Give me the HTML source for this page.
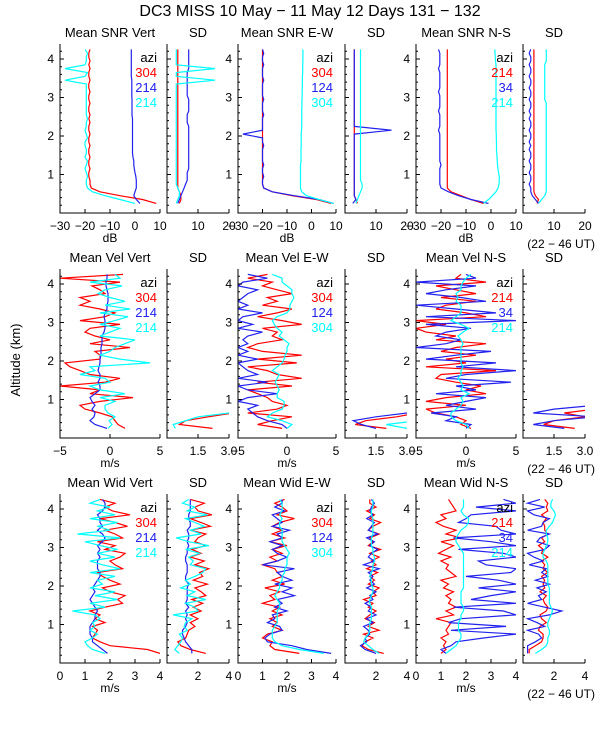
<!DOCTYPE html>
<html><head><meta charset="utf-8"><style>
html,body{margin:0;padding:0;background:#fff;width:600px;height:750px;overflow:hidden}
svg text{font-family:"Liberation Sans",sans-serif;}
</style></head><body>
<svg id="chart" width="600" height="750" xmlns="http://www.w3.org/2000/svg">
<text x="310" y="16" font-size="16" text-anchor="middle">DC3 MISS  10 May − 11 May 12 Days 131 − 132</text>
<text x="0" y="0" font-size="13" text-anchor="middle" transform="translate(20,360) rotate(-90)">Altitude (km)</text>
</svg>
<script>
const alt=[0.25,0.35,0.45,0.55,0.65,0.75,0.85,0.95,1.05,1.15,1.25,1.35,1.45,1.55,1.65,1.75,1.85,1.95,2.05,2.15,2.25,2.35,2.45,2.55,2.65,2.75,2.85,2.95,3.05,3.15,3.25,3.35,3.45,3.55,3.65,3.75,3.85,3.95,4.05,4.15,4.25];
// Row 1: SNR
const snrVertR=[8.5,3,-6,-14,-17.5,-18,-18,-18.5,-18.5,-18,-18.5,-18.5,-18,-18.5,-18.5,-18,-18.5,-18.5,-18,-18.5,-18.5,-18,-18.5,-18,-18.5,-18.5,-18,-18.5,-18.5,-18,-18.5,-18.5,-18,-18.5,-18.5,-18,-18.5,-18,-18.5,-18.5,-18];
const snrVertB=[2,0.5,-0.5,0,0.5,0.5,0.5,0.3,0,-0.3,-0.5,-0.5,-0.8,-1,-1,-1,-1,-1,-1,-1,-1,-1,-1,-1.2,-1.2,-1.2,-1.2,-1.2,-1.3,-1.3,-1.3,-1.3,-1.3,-1.5,-1.5,-1.5,-1.5,-1.5,-1.5,-1.5,-1.5];
const snrVertC=[0,-6,-12,-17,-19,-19.5,-19.5,-19,-19.5,-20,-19.5,-19,-20,-19.5,-19.5,-20,-20,-19,-19.5,-20,-19.5,-19.5,-19,-19.5,-19.5,-19.5,-19.5,-19.5,-19.5,-19.5,-19.5,-19.5,-28,-20,-19,-28,-20,-19.5,-19.5,-19,-20];
const snrVertSdR=[4,4.5,4.5,4,3.5,3.5,3.5,3.5,3.5,3.5,3.5,3.5,3.5,3.5,3.5,3.5,3.5,3.5,3.5,3.5,3.5,3.5,3.5,3.5,3.5,3.5,3.5,3.5,3.5,3.5,3.5,3.5,3.5,3.5,3.5,3.5,3.5,3.5,3.5,3.5,3.5];
const snrVertSdB=[3.5,4,4.5,5,5.5,6,6.5,6.5,6.5,7,7,7,7,7,7,7,7,7,7,7,7,6.5,6.5,6.5,7,7,7,7,6.5,6.5,6.5,6.5,6.5,6.5,6.5,7,7,7,7,7,7];
const snrVertSdC=[3,3.5,4,4,3.5,3,3,3,3,3,3,3,3,3,3,3,3,3,3,3,3,3,3,3,3,3,3,3,3,3,3,3,15.5,3,3,15.5,3,3,3,3,3];
const snrEwR=[8,2,-8,-16,-19.5,-20,-20,-20,-20,-20,-20,-20,-20,-20,-20,-20,-20,-20,-20,-20,-20,-20,-20,-20,-20,-20,-20,-20,-20,-20,-20,-20,-20,-20,-20,-20,-20,-20,-20,-20,-20];
const snrEwB=[9,3,-7,-16,-19.5,-20,-20,-19.5,-20,-20,-19.5,-20,-20,-20,-20,-19.5,-20,-20,-28,-20,-20,-20,-20,-19.5,-20,-20,-20,-19.5,-20,-20,-20,-20,-19.5,-20,-20,-20,-19.5,-20,-20,-19.5,-20];
const snrEwC=[9,3,-2,-4,-4.5,-4.5,-4.5,-4.5,-4.5,-4.5,-4.5,-4.3,-4.3,-4.3,-4.3,-4.2,-4.2,-4.2,-4.2,-4.1,-4,-4,-4,-4,-4,-3.9,-3.9,-3.9,-3.8,-3.8,-3.8,-3.7,-3.7,-3.7,-3.6,-3.6,-3.6,-3.5,-3.5,-3.5,-3.5];
const snrEwSdR=[4,3.5,3,3,3,3,3,3,3,3,3,3,3,3,3,3,3,3,3,3,3,3,3,3,3,3,3,3,3,3,3,3,3,3,3,3,3,3,3,3,3];
const snrEwSdB=[2.5,3.5,3,3,3,3,3,3,3,3,3,3,3,3,3,3,3,3,3,15,3,3,3,3,3,3,3,3,3,3,3,3,3,3,3,3,3,3,3,3,3];
const snrEwSdC=[3.5,4,4.5,5,5.5,5.5,5,5,5,5,5,5,5,5,5,5,5,5,5,5,5,5,5,5,5,5,5,5,5,5,5,5,5,5,5,5,5,5,5,5,5];
const snrNsR=[-3,-8,-12,-16,-17.5,-17.5,-17.5,-17.5,-17.5,-17.5,-17.5,-17.5,-17.5,-17.5,-17.5,-17.5,-17.5,-17.5,-17.5,-17.5,-17.5,-17.5,-17.5,-17.5,-17.5,-17.5,-17.5,-17.5,-17.5,-17.5,-17.5,-17.5,-17.5,-17.5,-17.5,-17.5,-17.5,-17.5,-17.5,-17.5,-17.5];
const snrNsB=[-1,-8,-13,-17,-20,-20.5,-20.5,-20.5,-20.5,-20.5,-20,-20.5,-20.5,-20.5,-20.5,-20.5,-20.5,-20.5,-20.5,-21,-20.5,-20.5,-20.5,-20.5,-21,-20.5,-20.5,-20.5,-20.5,-21,-20.5,-20.5,-20.5,-20.5,-20.5,-21,-20.5,-20.5,-20.5,-20.5,-21];
const snrNsC=[-3,-1,0.5,2,2.8,3.2,3.3,3.3,3,2.8,2.6,2.5,2.4,2.3,2.2,2.2,2.2,2.1,2.1,2,2,2,2,2,2,2,2,2,2,2,2,2,2,2,2,2,2,1.8,1.7,1.6,1.5];
const snrNsSdR=[4.5,5,4,3.5,3.5,3.5,3.5,3.5,3.5,3.5,3.5,3.5,3.5,3.5,3.5,3.5,3.5,3.5,3.5,3.5,3.5,3.5,3.5,3.5,3.5,3.5,3.5,3.5,3.5,3.5,3.5,3.5,3.5,3.5,3.5,3.5,3.5,3.5,3.5,3.5,3.5];
const snrNsSdB=[5,4,3,2.5,2.5,2,2.5,2.5,2,2.5,2.5,2,2.5,2.5,2,2.5,2,2.5,2.5,2,2.5,2.5,2,2.5,2,2.5,2.5,2,2.5,2.5,2,2.5,2.5,2,2.5,2.5,2,2.5,2.5,2,2.5];
const snrNsSdC=[5,6,7,7.5,7.5,7.5,7.5,7.5,7.5,7.5,7.5,7.5,7.5,7.5,7.5,7.5,7.5,7.5,7.5,7.5,7.5,7.5,7.5,7.5,7.5,7.5,7.5,7,7,7,7,7,7,7,7,7,7,7.5,7.5,7.5,7.5];
// Row 2: velocity
const velVertR=[1.5,0.8,0.5,0.2,-1,-2.5,-3,-1,2.3,-2,-1,-5,-0.5,1,-2,-3,-4,-4.5,-1,-1,-1.5,2,-2,0,-1.5,-2.5,-2,1,-3,-0.5,0.5,-1,-3,-2,-3,-0.5,-1,-1.8,1,-5,1.3];
const velVertB=[-0.3,-1.5,-2,-1.6,-1.5,-1.8,-1.5,-1.8,-2,-1.5,-1,-1,-1.2,-1,-1,-1.2,-1.1,-1,-1,-0.9,-0.9,-0.9,-0.8,-0.8,-0.8,-0.6,-0.5,-0.5,-0.5,-0.6,-0.5,-0.3,-0.3,-0.2,-0.2,-0.2,-0.3,-0.4,-0.4,-0.3,-0.3];
const velVertC=[-0.2,0.2,-0.1,0.5,-0.2,-0.5,-0.5,0.5,-1,1.5,-1,-2,0,-0.5,-3,-1.5,-2,4,1,-1,0,0.5,1.5,2.5,-1,0,1,-1,0.5,1.8,-1,2,-0.5,1.5,0,-1.2,-0.5,1.2,-2,1,0.5];
const velVertSdR=[2.2,0.6,0.9,2,3.2,null,null,null,null,null,null,null,null,null,null,null,null,null,null,null,null,null,null,null,null,null,null,null,null,null,null,null,null,null,null,null,null,null,null,null,null];
const velVertSdC=[0.4,0.3,0.9,1.5,3,3.5,null,null,null,null,null,null,null,null,null,null,null,null,null,null,null,null,null,null,null,null,null,null,null,null,null,null,null,null,null,null,null,null,null,null,null];
const velEwR=[-0.5,-3,-1.5,0.5,-4,-1,0,-1.5,-2,-3,-4,0.5,-3,1.5,-1,-2,-4,1,-3,1.5,-2.5,-4,-3,-0.5,-1.5,-1,-2.5,1.5,-0.5,-3,-1,0.5,-2.5,-1,-2,0.5,-1,-2.5,-1.5,-4,-2];
const velEwB=[0,-0.5,-2,-3,-3.5,-4,-3,-5,-4,-1,-4,-5,-2,-5,-3,-4,-4.5,-5,-3,-5,-4,-5,-4,-4.5,-4,-2.5,-5,-3.5,-5,-4.5,-2.5,-5,-4,-5,-4.5,-4,-3,-5,-4.5,-2,-4];
const velEwC=[0,0.5,-0.5,-2,-1.5,-0.5,-0.3,-0.3,-1,-1,-0.8,-1,-1.2,-1,-0.8,-1.5,-1,-0.5,-0.3,-0.2,0,0,0.2,-0.3,-0.8,-0.5,-1,-1.3,-1.5,-1,0,0.3,0.3,0.5,0.7,0.5,0.5,0,-0.5,-0.5,-1.5];
const velEwSdR=[2,0.5,1,2.5,3.5,null,null,null,null,null,null,null,null,null,null,null,null,null,null,null,null,null,null,null,null,null,null,null,null,null,null,null,null,null,null,null,null,null,null,null,null];
const velEwSdB=[1.5,0.8,0.4,1.5,3,3.5,null,null,null,null,null,null,null,null,null,null,null,null,null,null,null,null,null,null,null,null,null,null,null,null,null,null,null,null,null,null,null,null,null,null,null];
const velEwSdC=[3,2,3.5,null,null,null,null,null,null,null,null,null,null,null,null,null,null,null,null,null,null,null,null,null,null,null,null,null,null,null,null,null,null,null,null,null,null,null,null,null,null];
const velNsR=[0.5,-0.5,0,-1,-3,-4,0,-4,-2,2,0,1.5,-1,-3,-2.5,3,-4,0,-2,1,-2.5,-1,2,-3,-1,-4,-5,-2,-5,2,0,-3,-2,1,-2.5,1,-1,-3,2,-1,-0.5];
const velNsB=[0,0.5,-2,-1,-3.5,1,-2,0,2,-3,1,-1,4.5,-2,0,5,-1,3,-4,-1,2.5,-5,-2,-0.5,-3,-2,0.5,-4,5,-4,3,-1,-5,2,-0.5,-4,-2,1,-5,1,0];
const velNsC=[0.3,0,-1,-1.5,-1.5,-1,-0.5,-0.3,-0.5,0.3,-0.5,-0.3,-0.5,-0.8,-0.5,-0.5,-0.3,-0.5,-0.5,-0.5,-0.5,-0.5,-0.3,-0.5,-0.8,-0.3,0.3,-0.5,-1.5,-1,-0.5,-0.5,-0.5,-1,-0.8,-1,-0.5,-0.5,-0.3,0,0.5];
const velNsSdR=[2.5,1,1.5,3,2,3.5,null,null,null,null,null,null,null,null,null,null,null,null,null,null,null,null,null,null,null,null,null,null,null,null,null,null,null,null,null,null,null,null,null,null,null];
const velNsSdB=[2,0.5,1.5,3.5,0.5,1.5,3.5,null,null,null,null,null,null,null,null,null,null,null,null,null,null,null,null,null,null,null,null,null,null,null,null,null,null,null,null,null,null,null,null,null,null];
// Row 3: width
const widVertR=[4,3.5,2,1.6,1.3,1.4,1.5,1.3,1.8,1.4,1.6,1.2,1.8,2.5,2.3,2.6,2,1.7,2.4,2,1.7,1.5,2.5,2.2,2,2.4,2.6,1.8,2.2,1.5,2.5,2.2,1.8,2.7,2.2,1.6,2.8,2.1,1.8,2.2,1.6];
const widVertB=[1.9,1.7,1.5,1.3,1.3,1.2,1.2,1.2,1.3,1.4,1.4,1.5,1.4,1.3,1.2,1.3,1.4,1.3,1.4,1.5,1.6,1.6,1.5,1.5,1.5,1.6,1.5,1.6,1.5,1.7,1.8,1.7,1.5,1.7,1.6,1.6,1.5,1.7,1.8,1.8,1.7];
const widVertC=[1.8,1.3,1.1,1,1.3,1.5,1.2,1.4,1.3,1.6,1.4,0.5,1.8,1.2,2.3,1.4,2.2,1.2,1.7,1.5,2.2,1.2,2.4,1.7,1.2,2.2,1.5,2.3,1.6,1,2.4,0.7,2,1.5,2.3,1.2,2.2,1.5,2,1.2,1.6];
const widVertSdR=[2.5,1.5,0.9,0.7,1.2,1.3,1.4,1.8,1.5,2,1.5,2.2,1.7,2.3,1.6,2.5,2.2,1.8,2.6,1.7,2.3,2.1,2.7,1.8,2.4,1.5,2.2,1.6,2.5,1.8,2,2.5,1.5,2.8,2.2,1.5,2.9,2,1.8,2.4,1.5];
const widVertSdB=[1.6,1.6,1.4,1.2,1.1,1,1,1.2,1.3,1.2,1.3,1.2,1.4,1.2,1.3,1.3,1.3,1.3,1.4,1.2,1.2,1.3,1.3,1.3,1.2,1.2,1.3,1.3,1.4,1.3,1.4,1.4,1.3,1.5,1.5,1.4,1.4,1.5,1.5,1.5,1.5];
const widVertSdC=[0.8,0.5,0.7,0.9,1,0.8,1.3,1.1,1.2,1.6,0.4,2,1.8,1.2,2.5,1.3,1.8,0.9,1.5,1.2,1.8,2.3,2.5,1.5,1.7,1.4,2.1,1.2,2.7,1.4,0.6,2.2,1.5,2.4,1.8,1.2,2.6,1.3,1.8,1,1.4];
const widEwR=[2.5,1.5,1.3,1.4,1,1.2,1.8,1.4,1.6,1.3,1.8,1.4,1.7,1,1.5,1.3,1.7,1.1,1.9,1.4,1.8,1.6,1.5,1,1.6,1.3,1.8,1.4,2,1.3,1.9,1.4,1.8,1.4,1.7,2.3,1.6,2,1.8,1.5,1.9];
const widEwB=[3.8,2.8,2.2,1.2,1.1,1.3,1.8,1.7,1.2,1.5,1.4,2,1.5,1.8,1.6,2.3,1.8,2.2,1.5,2.2,1.8,1.6,2.3,1,1.6,2,1.6,1.4,1.8,1.3,1.8,1.6,2.1,1.4,1.8,1.6,1.4,1.9,1.5,1.8,1.8];
const widEwC=[3.5,2.5,1.8,1.5,1.4,1.4,1.4,1.5,1.6,1.6,1.6,1.6,1.7,1.7,1.6,1.5,1.6,1.7,1.7,1.8,1.8,1.9,1.9,2,2,2,2.1,2,1.9,1.8,1.8,1.8,1.8,1.7,1.7,1.8,1.7,1.8,1.8,1.8,1.7];
const widEwSdR=[2.5,1.5,1.1,1.3,1.8,1.2,2.2,1.5,1.9,1.3,1.6,2,1.5,1.8,1.2,2,1.8,2.2,1.5,1.9,1.6,2.1,1.4,2,1.7,2.2,1.6,2.3,1.5,1.8,1.6,2.2,1.5,1.8,2.3,1.6,1.9,1.4,2,1.6,1.6];
const widEwSdB=[2,1.3,1,1.4,1.3,1.6,1.5,1.2,1.8,1.4,2,1.5,1.7,1.3,1.8,1.6,2,1.4,1.9,1.6,1.8,1.5,2.2,1.2,1.9,1.5,1.7,2.1,1.6,1.9,1.4,2.1,1.5,1.7,1.9,1.4,1.8,1.6,1.7,1.9,1.7];
const widEwSdC=[2.2,1.8,1.5,1.2,1.3,1.5,1.6,1.6,1.6,1.7,1.7,1.7,1.7,1.6,1.6,1.7,1.8,1.8,1.7,1.7,1.6,1.7,1.8,1.8,1.9,1.9,1.8,1.8,1.7,1.7,1.7,1.8,1.8,1.8,1.8,1.8,1.7,1.7,1.8,1.8,1.8];
const widNsR=[1,1.2,1.1,1.2,1,1.3,1.2,1.3,1.4,0.8,1.5,1.2,1.6,1.3,1.4,1.2,1.5,1.1,1.3,1,1.6,1.4,1.2,1.3,1,1.4,0.9,1.2,1.5,1,1.8,1.2,1.6,1.1,0.8,1.2,1,1.6,1.5,1.4,1.3];
const widNsB=[1.2,1,1.4,1.6,2.7,4,1.4,3.6,1.3,1.8,4,3.5,1.5,4,2.2,3,4,2.5,4,3.3,2,3.8,4,2.8,2.5,4,3.5,1.7,4,3,1.5,4,3.4,3.2,1.7,2,2.2,4,2.4,4,3.5];
const widNsC=[1.2,1.4,1.6,1.7,1.8,1.8,1.7,1.7,1.7,1.8,1.8,1.9,1.9,1.8,1.8,1.8,1.8,1.9,1.9,1.9,1.9,1.9,1.9,1.9,1.9,1.9,1.9,1.8,1.7,1.6,1.6,1.7,1.8,2,2.1,2.1,1.9,1.8,1.9,1.9,1.9];
const widNsSdR=[0.4,0.4,0.8,1.2,1.3,1.3,1,1.1,1.5,1.2,1.1,1.5,1.6,1.4,1.3,1.5,1.1,1.4,1.3,1.4,1.2,1.6,1.3,1.4,1.2,1.6,1.2,1.3,1,1.4,1.2,1.6,1.4,1.4,1.3,1.5,1.2,1.6,1.5,1.6,1.4];
const widNsSdB=[0.3,0.3,0.3,0.8,1.2,1,0.3,1.4,0.9,0.3,1.7,2.5,1.4,0.3,1.2,1,1.5,0.9,1.7,0.8,1.6,1.2,1.5,0.4,1.3,0.7,0.3,1.4,1.7,0.9,1.1,1.7,0.3,1.2,1.3,1.7,0.7,0.3,1.4,0.3,1.1];
const widNsSdC=[0.8,1.2,1.5,1.6,1.6,1.7,1.7,1.6,1.6,1.7,1.8,1.9,1.8,1.7,1.7,1.7,1.7,1.7,1.6,1.6,1.6,1.6,1.6,1.6,1.5,1.3,1.3,1.4,1.5,1.6,1.6,1.5,1.5,1.7,1.9,2,2.1,2,1.8,1.8,1.9];

const panelTitles=[["Mean SNR Vert","SD","Mean SNR E-W","SD","Mean SNR N-S","SD"],["Mean Vel Vert","SD","Mean Vel E-W","SD","Mean Vel N-S","SD"],["Mean Wid Vert","SD","Mean Wid E-W","SD","Mean Wid N-S","SD"]];
const legendAzi=[["304","214","214"],["304","124","304"],["214","34","214"]];
const meanTicks=[[-30,-20,-10,0,10],[-5,0,5],[0,1,2,3,4]];
const meanTickLabels=[["−30","−20","−10","0","10"],["−5","0","5"],["0","1","2","3","4"]];
const sdTicks=[[10,20],[1.5,3.0],[2,4]];
const sdTickLabels=[["10","20"],["1.5","3.0"],["2","4"]];
const meanDom=[[-30,10],[-5,5],[0,4]];
const sdDom=[[0,20],[0,3],[0,4]];
const unitLabels=["dB","m/s","m/s"];
const series=[
 [[snrVertR,snrVertB,snrVertC],[snrVertSdR,snrVertSdB,snrVertSdC],[snrEwR,snrEwB,snrEwC],[snrEwSdR,snrEwSdB,snrEwSdC],[snrNsR,snrNsB,snrNsC],[snrNsSdR,snrNsSdB,snrNsSdC]],
 [[velVertR,velVertB,velVertC],[velVertSdR,null,velVertSdC],[velEwR,velEwB,velEwC],[velEwSdR,velEwSdB,velEwSdC],[velNsR,velNsB,velNsC],[velNsSdR,velNsSdB,null]],
 [[widVertR,widVertB,widVertC],[widVertSdR,widVertSdB,widVertSdC],[widEwR,widEwB,widEwC],[widEwSdR,widEwSdB,widEwSdC],[widNsR,widNsB,widNsC],[widNsSdR,widNsSdB,widNsSdC]]
];

const NS="http://www.w3.org/2000/svg";
const svg=document.getElementById('chart');
const colX=[[60,160],[167,229],[238,336],[345,407],[416,516],[523,585]];
const rowTop=[44,269,494], rowBot=[213,438,663];
const KM=38.5;
const colors=["#ff0000","#2222ee","#00ffff"];
const rowNames=["snr","vel","wid"];
function mk(tag,attrs,parent){const e=document.createElementNS(NS,tag);for(const k in attrs)e.setAttribute(k,attrs[k]);(parent||svg).appendChild(e);return e;}

for(let r=0;r<3;r++){
 for(let c=0;c<6;c++){
  const [x0,x1]=colX[c]; const yt=rowTop[r], yb=rowBot[r];
  const isMean=c%2===0;
  const dom=isMean?meanDom[r]:sdDom[r];
  const xs=v=>x0+(v-dom[0])/(dom[1]-dom[0])*(x1-x0);
  const ys=a=>yb-a*KM;
  const g=mk('g',{});
  
  
  const cid='clip'+r+'_'+c;
  const cp=mk('clipPath',{id:cid},g); mk('rect',{x:x0,y:yt,width:x1-x0,height:yb-yt},cp);
  // series
  const trio=series[r][c];
  for(let s=0;s<3;s++){
   const arr=trio[s]; if(!arr) continue;
   let d=''; let pen=false;
   for(let i=0;i<alt.length;i++){
     const v=arr[i];
     if(v===null||v===undefined){pen=false;continue;}
     d+=(pen?'L':'M')+xs(v).toFixed(1)+' '+ys(alt[i]).toFixed(1);
     pen=true;
   }
   const p=mk('path',{d:d,fill:'none',stroke:colors[s],'stroke-width':1.2,'clip-path':'url(#'+cid+')'},g);
   
   
  }
  // axes
  const ax=mk('path',{d:`M${x0} ${yt}V${yb}H${x1}`,fill:'none',stroke:'#000','stroke-width':1},g);
  
  
  let td='';
  for(let k=1;k<=4;k++){td+=`M${x0} ${ys(k)}h4`;}
  for(let k=1;k<22;k++){if(k%5)td+=`M${x0} ${(ys(k*0.2)).toFixed(1)}h2`;}
  const xt=isMean?meanTicks[r]:sdTicks[r];
  xt.forEach(v=>{td+=`M${xs(v).toFixed(1)} ${yb}v-4`;});
  mk('path',{d:td,stroke:'#000','stroke-width':1,fill:'none'},g);
  // y labels
  if(isMean){
   for(let k=1;k<=4;k++){const t=mk('text',{x:x0-6,y:ys(k)+4,'font-size':12,'text-anchor':'end'},g);t.textContent=String(k);
    
    }
  }
  const xl=isMean?meanTickLabels[r]:sdTickLabels[r];
  xt.forEach((v,i)=>{const t=mk('text',{x:xs(v),y:yb+17,'font-size':12,'text-anchor':'middle'},g);t.textContent=xl[i];
   
   });
  // title
  const tt=mk('text',{x:(x0+x1)/2,y:yt-7,'font-size':13,'text-anchor':'middle'},g);tt.textContent=panelTitles[r][c];
  
  
  if(isMean){
   const u=mk('text',{x:(x0+x1)/2,y:yb+29,'font-size':12,'text-anchor':'middle'},g);u.textContent=unitLabels[r];
   
   
   const lg=mk('g',{},g);
   
   
   const a=mk('text',{x:x1-3,y:yt+18,'font-size':13,'text-anchor':'end'},lg);a.textContent='azi';
   
   
   for(let s=0;s<3;s++){const t=mk('text',{x:x1-3,y:yt+33+s*15,'font-size':13,'text-anchor':'end',fill:colors[s]},lg);t.textContent=legendAzi[c/2][s];
    
    }
  }
  if(c===5){
   const t=mk('text',{x:595,y:yb+35,'font-size':12,'text-anchor':'end'},g);t.textContent='(22 − 46 UT)';
   
   
  }
 }
}
</script>
</body></html>
